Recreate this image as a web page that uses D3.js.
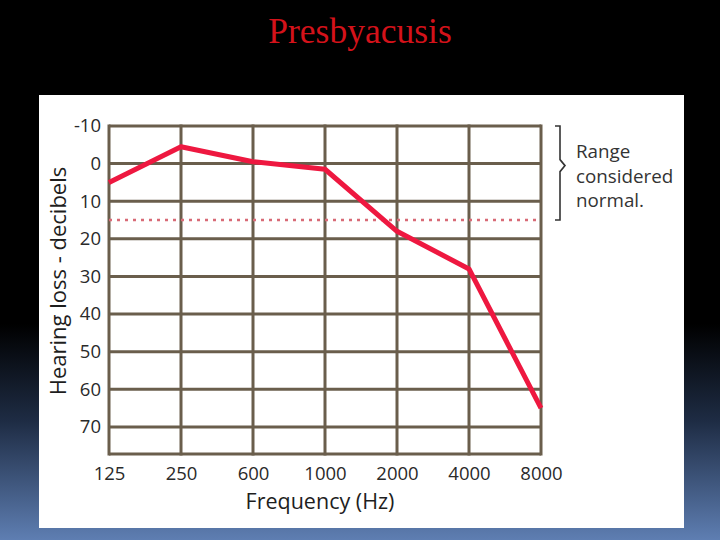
<!DOCTYPE html>
<html><head><meta charset="utf-8">
<script src="https://cdn.jsdelivr.net/npm/d3@7/dist/d3.min.js"></script>
<style>html,body{margin:0;padding:0;background:#000;overflow:hidden}</style>
</head><body>
<svg id="c" width="720" height="540"></svg>
<script>
const frequencies = ["125","250","600","1000","2000","4000","8000"];
const hearingLoss = [5, -4.5, -0.5, 1.5, 18, 28, 65];
const yTicks = [-10, 0, 10, 20, 30, 40, 50, 60, 70];
const normalLimit = 15;
const titleText = "Presbyacusis";
const noteLines = ["Range", "considered", "normal."];

const svg = d3.select("#c");
const defs = svg.append("defs");
const grad = defs.append("linearGradient").attr("id","bg").attr("x1",0).attr("y1",0).attr("x2",0).attr("y2",1);
grad.append("stop").attr("offset","0").attr("stop-color","#000");
grad.append("stop").attr("offset","0.6").attr("stop-color","#000");
grad.append("stop").attr("offset","0.78").attr("stop-color","#1e2c44");
grad.append("stop").attr("offset","1").attr("stop-color","#5e7eb2");
svg.append("rect").attr("width",720).attr("height",540).attr("fill","url(#bg)");

svg.append("text").attr("x",360).attr("y",43).attr("text-anchor","middle")
  .attr("font-family","'Liberation Serif','Times New Roman',serif").attr("font-size",35.5)
  .attr("fill","#d4121a").text(titleText);

svg.append("rect").attr("x",39).attr("y",95).attr("width",645).attr("height",433).attr("fill","#fff");

const x = d3.scalePoint().domain(frequencies).range([109, 541]);
const y = d3.scaleLinear().domain([-10, 77.2]).range([126, 454]);

const gridColor = "#6a5e4c";
const g = svg.append("g");
g.selectAll("line.h").data(yTicks.concat([77.2])).join("line")
  .attr("x1",x.range()[0]).attr("x2",x.range()[1])
  .attr("y1",d=>y(d)).attr("y2",d=>y(d))
  .attr("stroke",gridColor).attr("stroke-width",3);
g.selectAll("line.v").data(frequencies).join("line")
  .attr("x1",d=>x(d)).attr("x2",d=>x(d))
  .attr("y1",y(-10)-1.5).attr("y2",y(77.2)+1.5)
  .attr("stroke",gridColor).attr("stroke-width",3);

const fontF = "'Open Sans','Noto Sans',sans-serif";
const yAxis = svg.append("g").attr("transform","translate(109,0)")
  .call(d3.axisLeft(y).tickValues(yTicks).tickFormat(d=>String(d)).tickSize(0).tickPadding(8));
yAxis.select(".domain").remove();
yAxis.selectAll("text").attr("font-family",fontF).attr("font-size",18.5).attr("fill","#2a2a2a");

const xAxis = svg.append("g").attr("transform","translate(0,454)")
  .call(d3.axisBottom(x).tickSize(0).tickPadding(13));
xAxis.select(".domain").remove();
xAxis.selectAll("text").attr("font-family",fontF).attr("font-size",18.5).attr("fill","#2a2a2a");

svg.append("text").attr("x",320).attr("y",509).attr("text-anchor","middle")
  .attr("font-family",fontF).attr("font-size",21.5).attr("fill","#1e1e1e").text("Frequency (Hz)");
svg.append("text").attr("transform","translate(66,281) rotate(-90)").attr("text-anchor","middle")
  .attr("font-family",fontF).attr("font-size",22).attr("fill","#1e1e1e").text("Hearing loss - decibels");

svg.append("line").attr("x1",x.range()[0]).attr("x2",x.range()[1])
  .attr("y1",y(normalLimit)).attr("y2",y(normalLimit))
  .attr("stroke","#d86a76").attr("stroke-width",2.5).attr("stroke-dasharray","3,5");

const pts = frequencies.map((f,i)=>[f, hearingLoss[i]]);
svg.append("path").datum(pts)
  .attr("d", d3.line().x(d=>x(d[0])).y(d=>y(d[1])))
  .attr("fill","none").attr("stroke","#ee1840").attr("stroke-width",5).attr("stroke-linejoin","round");

const bx = 560, yt = y(-10), yb = y(normalLimit), ym = y(0)+2;
svg.append("path")
  .attr("d",`M${bx-5},${yt} L${bx},${yt} L${bx},${ym-6} L${bx+5},${ym} L${bx},${ym+6} L${bx},${yb} L${bx-5},${yb}`)
  .attr("fill","none").attr("stroke","#333").attr("stroke-width",1.6);

svg.append("g").selectAll("text").data(noteLines).join("text")
  .attr("x",576).attr("y",(d,i)=>158+i*24.5)
  .attr("font-family",fontF).attr("font-size",18.8).attr("fill","#333").text(d=>d);
</script>
</body></html>
